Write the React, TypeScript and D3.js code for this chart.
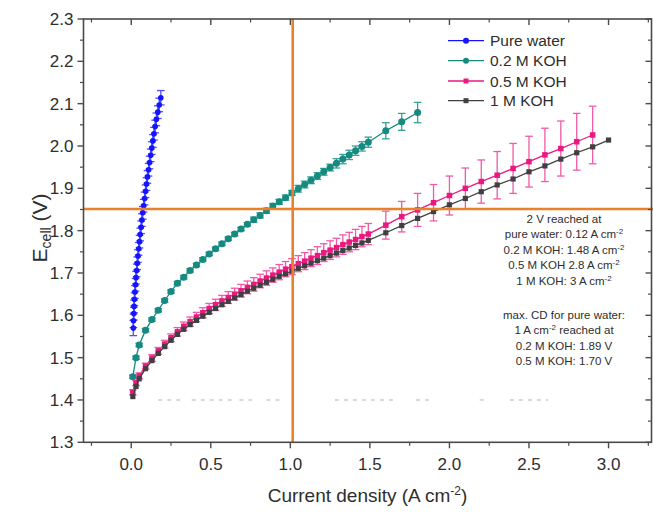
import React from "react";
import * as d3 from "d3";

// ---------- data ----------
const blueJ = [0.013,0.014,0.016,0.018,0.020,0.023,0.027,0.030,0.034,0.038,0.042,0.047,0.052,0.056,0.062,0.067,0.072,0.078,0.084,0.090,0.096,0.102,0.109,0.115,0.122,0.129,0.136,0.143,0.150,0.158,0.167,0.176,0.186];
const blueE = [1.570,1.587,1.604,1.621,1.638,1.655,1.672,1.689,1.706,1.723,1.740,1.757,1.774,1.791,1.808,1.825,1.842,1.859,1.876,1.893,1.910,1.927,1.944,1.961,1.978,1.995,2.012,2.029,2.046,2.063,2.080,2.097,2.114];
const blueErr = [0.018,0.016,0.015,0.015,0.015,0.015,0.015,0.015,0.015,0.015,0.015,0.015,0.015,0.015,0.015,0.015,0.015,0.015,0.015,0.015,0.015,0.015,0.015,0.015,0.015,0.015,0.015,0.015,0.015,0.015,0.015,0.016,0.017];

const tealJ = [0.01,0.03,0.05,0.09,0.13,0.17,0.21,0.25,0.29,0.33,0.37,0.41,0.45,0.49,0.53,0.57,0.61,0.65,0.69,0.73,0.77,0.81,0.85,0.89,0.93,0.97,1.01,1.05,1.09,1.13,1.17,1.21,1.25,1.29,1.33,1.37,1.41,1.45,1.49,1.60,1.70,1.80];
const tealE = [1.455,1.500,1.530,1.565,1.590,1.612,1.635,1.656,1.676,1.690,1.706,1.719,1.732,1.745,1.757,1.769,1.781,1.792,1.804,1.815,1.826,1.836,1.847,1.858,1.868,1.878,1.889,1.899,1.909,1.919,1.929,1.939,1.949,1.959,1.969,1.979,1.989,1.999,2.009,2.036,2.057,2.079];
const tealErr = [0.004,0.004,0.004,0.004,0.004,0.004,0.004,0.004,0.004,0.004,0.004,0.004,0.004,0.004,0.004,0.004,0.004,0.004,0.004,0.004,0.006,0.006,0.006,0.006,0.006,0.006,0.006,0.008,0.008,0.008,0.008,0.008,0.008,0.011,0.011,0.011,0.011,0.011,0.012,0.019,0.020,0.024];

const pinkJ = [0.01,0.03,0.05,0.09,0.13,0.17,0.21,0.25,0.29,0.33,0.37,0.41,0.45,0.49,0.53,0.57,0.61,0.65,0.69,0.73,0.77,0.81,0.85,0.89,0.93,0.97,1.01,1.05,1.09,1.13,1.17,1.21,1.25,1.29,1.33,1.37,1.41,1.45,1.49,1.6,1.7,1.8,1.9,2.0,2.1,2.2,2.3,2.4,2.5,2.6,2.7,2.8,2.9];
const pinkE = [1.418,1.440,1.457,1.480,1.499,1.516,1.532,1.547,1.561,1.574,1.585,1.596,1.606,1.616,1.625,1.634,1.642,1.650,1.658,1.666,1.673,1.681,1.688,1.695,1.702,1.709,1.715,1.722,1.728,1.735,1.741,1.748,1.754,1.760,1.767,1.773,1.779,1.786,1.792,1.813,1.833,1.849,1.866,1.883,1.900,1.916,1.931,1.947,1.963,1.979,1.994,2.010,2.026];
const pinkErr = [0.006,0.006,0.007,0.007,0.008,0.008,0.009,0.009,0.010,0.010,0.011,0.011,0.012,0.012,0.013,0.013,0.014,0.014,0.015,0.015,0.016,0.016,0.017,0.017,0.018,0.018,0.019,0.019,0.020,0.020,0.021,0.021,0.022,0.022,0.023,0.023,0.024,0.024,0.025,0.033,0.036,0.039,0.043,0.046,0.048,0.051,0.056,0.059,0.060,0.063,0.065,0.067,0.068];

const grayJ = [0.01,0.03,0.05,0.09,0.13,0.17,0.21,0.25,0.29,0.33,0.37,0.41,0.45,0.49,0.53,0.57,0.61,0.65,0.69,0.73,0.77,0.81,0.85,0.89,0.93,0.97,1.01,1.05,1.09,1.13,1.17,1.21,1.25,1.29,1.33,1.37,1.41,1.45,1.49,1.6,1.7,1.8,1.9,2.0,2.1,2.2,2.3,2.4,2.5,2.6,2.7,2.8,2.9,3.0];
const grayE = [1.408,1.432,1.450,1.474,1.493,1.510,1.526,1.541,1.555,1.567,1.578,1.588,1.598,1.607,1.616,1.625,1.633,1.641,1.649,1.657,1.664,1.671,1.678,1.685,1.692,1.698,1.704,1.711,1.717,1.723,1.729,1.735,1.741,1.747,1.753,1.759,1.765,1.771,1.777,1.795,1.812,1.829,1.845,1.861,1.876,1.892,1.908,1.922,1.939,1.953,1.969,1.984,1.998,2.014];

// faint grey dashes near 1.40 V (start, end current density)
const faintSegments = [[0.17,0.31],[0.38,0.64],[0.68,0.76],[0.85,0.96],[1.28,1.65],[1.79,1.88],[2.19,2.22],[2.38,2.62]];
const faintLevel = 1.40;

// annotation guide lines
const guideCD = 1.015;
const guideE = 1.851;

const seriesNames = ["Pure water", "0.2 M KOH", "0.5 M KOH", "1 M KOH"];
const yTickValues = [1.3,1.4,1.5,1.6,1.7,1.8,1.9,2.0,2.1,2.2,2.3];
const yMinorValues = [1.35,1.45,1.55,1.65,1.75,1.85,1.95,2.05,2.15,2.25];
const xTickValues = [0,0.5,1.0,1.5,2.0,2.5,3.0];
const xMinorValues = [-0.25,0.25,0.75,1.25,1.75,2.25,2.75,3.25];

const noteTop = ["2 V reached at", "pure water: 0.12 A cm", "0.2 M KOH: 1.48 A cm", "0.5 M KOH 2.8 A cm", "1 M KOH: 3 A cm"];
const noteBottom = ["max. CD for pure water:", "1 A cm", "0.2 M KOH: 1.89 V", "0.5 M KOH: 1.70 V"];

// ---------- layout ----------
const W = 653, H = 514;
const L = 83.5, R = 651.5, T = 19, B = 442.3;
const FONT = "'Liberation Sans', Arial, Helvetica, sans-serif";
const TXT = "#2e2e2e";
const AX = "#4a4a4a";

const x = d3.scaleLinear().domain([-0.3, 3.27]).range([L, R]);
const y = d3.scaleLinear().domain([1.3, 2.3]).range([B, T]);
const fmt = d3.format(".1f");

type S = { name: string; J: number[]; E: number[]; err?: number[]; color: string; errColor: string; marker: "circle" | "square"; size: number };

const series: S[] = [
  { name: seriesNames[0], J: blueJ, E: blueE, err: blueErr, color: "#1414ff", errColor: "#4d4dff", marker: "circle", size: 2.8 },
  { name: seriesNames[1], J: tealJ, E: tealE, err: tealErr, color: "#168a80", errColor: "#33a397", marker: "circle", size: 3.5 },
  { name: seriesNames[2], J: pinkJ, E: pinkE, err: pinkErr, color: "#ea1880", errColor: "#f05aa6", marker: "square", size: 5.5 },
  { name: seriesNames[3], J: grayJ, E: grayE, color: "#404040", errColor: "#404040", marker: "square", size: 5.2 },
];

function Marker({ cx, cy, s }: { cx: number; cy: number; s: S }) {
  if (s.marker === "circle") return <circle cx={cx} cy={cy} r={s.size} fill={s.color} />;
  return <rect x={cx - s.size / 2} y={cy - s.size / 2} width={s.size} height={s.size} fill={s.color} />;
}

function Series({ s }: { s: S }) {
  const pts = s.J.map((j, i) => [j, s.E[i]] as [number, number]);
  const line = d3.line<[number, number]>().x(d => x(d[0])).y(d => y(d[1]));
  return (
    <g>
      <path d={line(pts) || ""} fill="none" stroke={s.color} strokeWidth={1.3} />
      {s.err && pts.map((p, i) => {
        const cx = x(p[0]);
        const y1 = y(p[1] + s.err![i]);
        const y2 = y(p[1] - s.err![i]);
        return (
          <g key={"e" + i} stroke={s.errColor} strokeWidth={1.3}>
            <line x1={cx} x2={cx} y1={y1} y2={y2} />
            <line x1={cx - 3.8} x2={cx + 3.8} y1={y1} y2={y1} />
            <line x1={cx - 3.8} x2={cx + 3.8} y1={y2} y2={y2} />
          </g>
        );
      })}
      {pts.map((p, i) => <Marker key={"m" + i} cx={x(p[0])} cy={y(p[1])} s={s} />)}
    </g>
  );
}

export default function App() {
  const noteX = 564;
  const topRows = [219, 234.4, 249.8, 265.2, 280.6];
  const botRows = [315, 330.4, 345.8, 361.2];
  const legendRows = [40.7, 60.7, 81, 100.7];
  return (
    <svg width={W} height={H} style={{ position: "absolute", left: 0, top: 0, background: "#fff" }} fontFamily={FONT}>
      <rect x={0} y={0} width={W} height={H} fill="#fff" />

      {/* faint dashes */}
      {faintSegments.map((sg, i) => (
        <line key={"f" + i} x1={x(sg[0])} x2={x(sg[1])} y1={y(faintLevel)} y2={y(faintLevel)} stroke="#cccccc" strokeWidth={1.4} strokeDasharray="4,5" />
      ))}

      {/* series */}
      {series.map(s => <Series key={s.name} s={s} />)}

      {/* guide lines */}
      <line x1={x(guideCD)} x2={x(guideCD)} y1={T} y2={B} stroke="#e8802c" strokeWidth={2.6} />
      <line x1={L} x2={W} y1={y(guideE)} y2={y(guideE)} stroke="#e8802c" strokeWidth={2.6} />

      {/* frame */}
      <rect x={L} y={T} width={R - L} height={B - T} fill="none" stroke={AX} strokeWidth={1.6} />

      {/* y ticks */}
      {yTickValues.map(v => (
        <g key={"yt" + v}>
          <line x1={L - 6} x2={L} y1={y(v)} y2={y(v)} stroke={AX} strokeWidth={1.4} />
          <line x1={R - 6} x2={R} y1={y(v)} y2={y(v)} stroke={AX} strokeWidth={1.4} />
          <text x={L - 10} y={y(v) + 6} textAnchor="end" fontSize={17} fill={TXT}>{fmt(v)}</text>
        </g>
      ))}
      {yMinorValues.map(v => (
        <g key={"ym" + v}>
          <line x1={L - 3.5} x2={L} y1={y(v)} y2={y(v)} stroke={AX} strokeWidth={1.2} />
          <line x1={R - 3.5} x2={R} y1={y(v)} y2={y(v)} stroke={AX} strokeWidth={1.2} />
        </g>
      ))}

      {/* x ticks */}
      {xTickValues.map(v => (
        <g key={"xt" + v}>
          <line x1={x(v)} x2={x(v)} y1={B} y2={B + 6} stroke={AX} strokeWidth={1.4} />
          <line x1={x(v)} x2={x(v)} y1={T} y2={T + 6} stroke={AX} strokeWidth={1.4} />
          <text x={x(v)} y={B + 28} textAnchor="middle" fontSize={17} fill={TXT}>{fmt(v)}</text>
        </g>
      ))}
      {xMinorValues.map(v => (
        <g key={"xm" + v}>
          <line x1={x(v)} x2={x(v)} y1={B} y2={B + 3.5} stroke={AX} strokeWidth={1.2} />
          <line x1={x(v)} x2={x(v)} y1={T} y2={T + 3.5} stroke={AX} strokeWidth={1.2} />
        </g>
      ))}

      {/* axis titles */}
      <text transform="translate(47,228) rotate(-90)" textAnchor="middle" fontSize={21} fill={TXT}>
        E<tspan fontSize={14} dy={4}>cell</tspan><tspan fontSize={21} dy={-4}> (V)</tspan>
      </text>
      <text x={(L + R) / 2} y={502} textAnchor="middle" fontSize={19} fill={TXT}>
        Current density (A cm<tspan fontSize={12} dy={-7}>-2</tspan><tspan dy={7}>)</tspan>
      </text>

      {/* legend */}
      {series.map((s, i) => (
        <g key={"lg" + i}>
          <line x1={448} x2={484} y1={legendRows[i]} y2={legendRows[i]} stroke={s.color} strokeWidth={1.3} />
          <Marker cx={466} cy={legendRows[i]} s={{ ...s, size: s.marker === "circle" ? 3 : 5 }} />
          <text x={490} y={legendRows[i] + 5.5} fontSize={15.5} fill={TXT}>{s.name}</text>
        </g>
      ))}

      {/* annotation */}
      <g fontSize={11.5} fill={TXT} textAnchor="middle">
        {noteTop.map((t, i) => (
          <text key={"nt" + i} x={noteX} y={topRows[i] + 4}>
            {t}{i > 0 ? <tspan fontSize={8} dy={-4}>-2</tspan> : null}
          </text>
        ))}
        <text x={noteX} y={botRows[0] + 4}>{noteBottom[0]}</text>
        <text x={noteX} y={botRows[1] + 4}>
          {noteBottom[1]}<tspan fontSize={8} dy={-4}>-2</tspan><tspan dy={4}> reached at</tspan>
        </text>
        <text x={noteX} y={botRows[2] + 4}>{noteBottom[2]}</text>
        <text x={noteX} y={botRows[3] + 4}>{noteBottom[3]}</text>
      </g>
    </svg>
  );
}
